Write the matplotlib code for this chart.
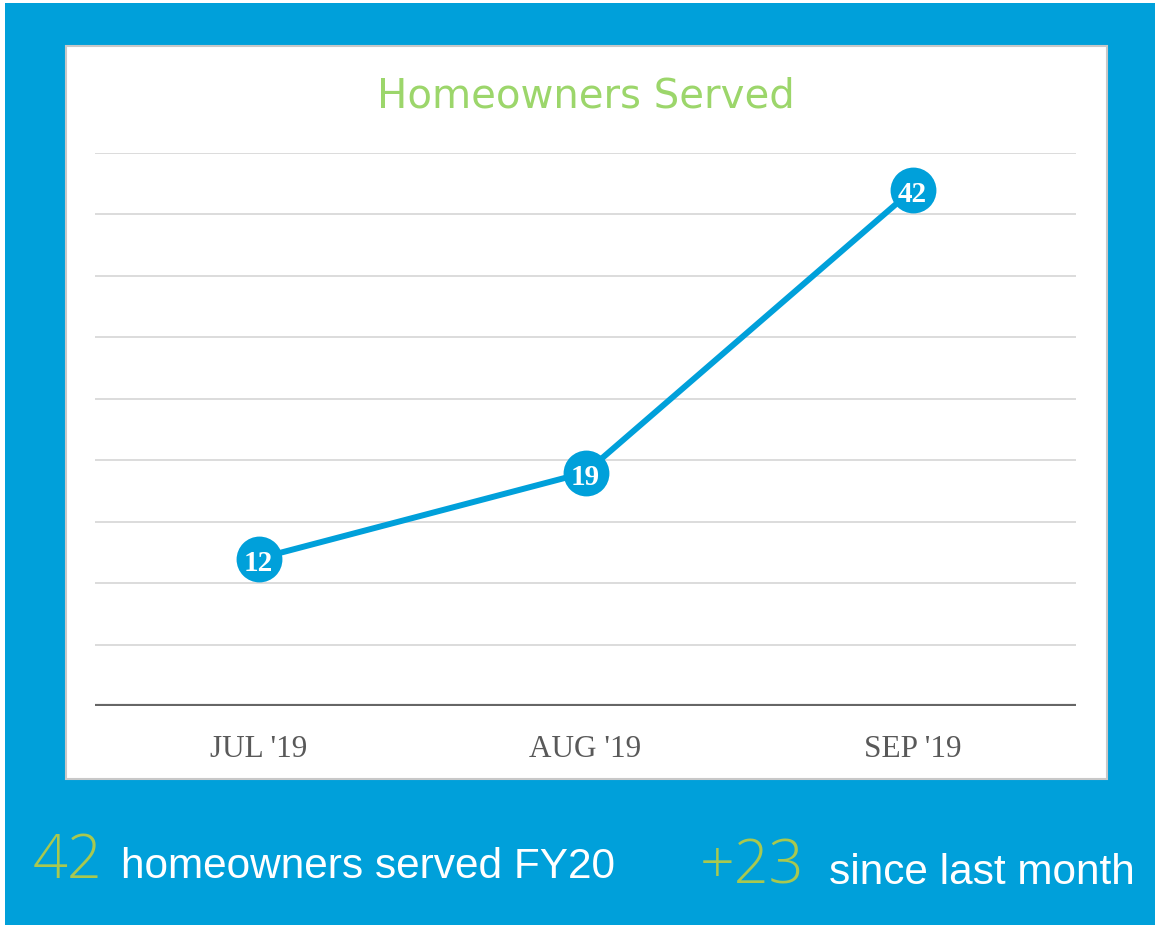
#!/usr/bin/env python3
"""Homeowners served line chart on a blue card."""

import matplotlib

matplotlib.use("Agg")
import matplotlib.pyplot as plt
from matplotlib.patches import Rectangle

months = ["JUL '19", "AUG '19", "SEP '19"]
served = [12, 19, 42]
grid_values = [5, 10, 15, 20, 25, 30, 35, 40, 45]
total_fy = 42
change = "+23"

BLUE = "#00A0DA"
GREEN_TITLE = "#9CD66B"
GREEN_STAT = "#A9C84F"
W, H = 1157, 928

fig = plt.figure(figsize=(W / 100, H / 100), dpi=100)
fig.patch.set_facecolor("white")

# blue card and white panel, drawn beneath the axes
fig.add_artist(Rectangle((5 / W, 2 / H), 1150 / W, 922 / H, zorder=-2,
                         transform=fig.transFigure, facecolor=BLUE, edgecolor="none"))
fig.add_artist(Rectangle((66 / W, 1 - 780 / H), 1041 / W, 733 / H, zorder=-1,
                         transform=fig.transFigure, facecolor="white",
                         edgecolor="#C8C8C8", linewidth=1.5))

ax = fig.add_axes([95 / W, 1 - 707 / H, 981 / W, 553 / H])
ax.set_facecolor("none")
ax.set_zorder(1)
x = [i + 0.5 for i in range(len(months))]

for g in grid_values:
    ax.axhline(g, color="#D9D9D9", linewidth=1.3, zorder=1)
ax.axhline(0, color="#666666", linewidth=3, zorder=2)

ax.plot(x, served, color=BLUE, linewidth=4.3, zorder=3, solid_capstyle="round")
ax.plot(x, served, "o", color=BLUE, markersize=33, markeredgewidth=0, zorder=4)
for xi, v in zip(x, served):
    ax.text(xi, v - 0.3, str(v), ha="center", va="center", color="white",
            fontsize=21, fontweight="bold", family="Liberation Serif", zorder=5)

ax.set_xlim(0, 3)
ax.set_ylim(0, 45)
ax.set_xticks(x)
ax.set_xticklabels(months, family="Liberation Serif", fontsize=22.5, color="#595959")
ax.tick_params(axis="x", length=0, pad=20)
ax.set_yticks([])
for s in ax.spines.values():
    s.set_visible(False)

fig.text(586 / W, 1 - 97 / H, "Homeowners Served", ha="center", va="center",
         color=GREEN_TITLE, fontsize=29, family="DejaVu Sans")

# bottom statistics
fig.text(33 / W, 1 - 878 / H, str(total_fy), ha="left", va="baseline",
         color=GREEN_STAT, fontsize=44, family="Open Sans", fontweight=300)
fig.text(121 / W, 1 - 878 / H, "homeowners served FY20", ha="left", va="baseline",
         color="white", fontsize=30.5, family="Liberation Sans")
fig.text(700 / W, 1 - 884 / H, change, ha="left", va="baseline",
         color=GREEN_STAT, fontsize=44, family="Open Sans", fontweight=300)
fig.text(829 / W, 1 - 884 / H, "since last month", ha="left", va="baseline",
         color="white", fontsize=30.5, family="Liberation Sans")

fig.savefig("out.png", dpi=100)
